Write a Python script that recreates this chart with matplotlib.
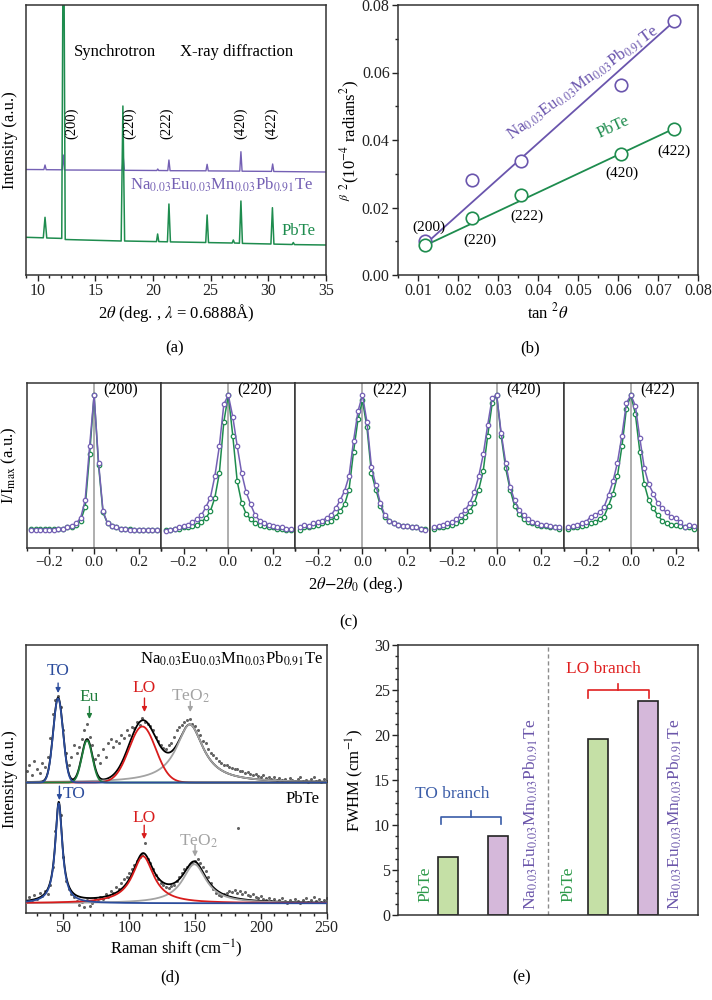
import numpy as np
import matplotlib
matplotlib.use('Agg')
import matplotlib.pyplot as plt
from matplotlib.ticker import MultipleLocator

plt.rcParams['font.family'] = ['Liberation Serif', 'DejaVu Serif']
plt.rcParams['mathtext.fontset'] = 'stix'
plt.rcParams['font.size'] = 11
plt.rcParams['axes.linewidth'] = 1.1
plt.rcParams['axes.edgecolor'] = '#333333'

PURPLE = '#7460b4'
GREEN = '#1e8c4e'
NA_LABEL = r'Na$_{0.03}$Eu$_{0.03}$Mn$_{0.03}$Pb$_{0.91}$Te'

# ---------------- (a) synchrotron XRD traces (arb. units) ----------------
xrd_tth_pbte = [9.0, 10.5, 10.65, 10.8, 12.1, 12.25, 12.4, 17.25, 17.4, 17.55,
                20.31, 20.41, 20.51, 21.26, 21.39, 21.52, 24.58, 24.7, 24.82,
                26.87, 26.97, 27.07, 27.5, 27.63, 27.76, 30.23, 30.36, 30.49,
                32.07, 32.17, 32.27, 35.0]
xrd_int_pbte = [37.7, 37.2, 57.7, 37.0, 36.6, 420.0, 35.5, 34.0, 169.0, 34.0,
                33.4, 41.0, 33.4, 33.2, 71.0, 33.1, 32.5, 60.0, 32.4,
                32.0, 35.0, 32.0, 31.8, 74.0, 31.6, 31.0, 67.3, 30.9,
                30.5, 32.5, 30.4, 30.0]
xrd_tth_na = [9.0, 10.55, 10.65, 10.75, 12.13, 12.23, 12.33, 17.33, 17.43, 17.53,
              20.34, 20.42, 20.5, 21.29, 21.39, 21.49, 24.6, 24.7, 24.8,
              27.53, 27.63, 27.73, 30.28, 30.38, 30.48, 35.0]
xrd_int_na = [105.5, 105.4, 110.0, 105.3, 105.2, 120.0, 105.0, 104.8, 118.0, 104.7,
              104.5, 106.0, 104.5, 104.4, 115.0, 104.3, 104.2, 110.7, 104.1,
              103.9, 123.3, 103.8, 103.6, 111.0, 103.5, 103.0]
hkl = ['(200)', '(220)', '(222)', '(420)', '(422)']
hkl_label_tth = [12.96, 18.0, 21.2, 27.6, 30.3]

# ---------------- (b) Williamson-Hall type plot ----------------
tan2theta = [0.0118, 0.0235, 0.0357, 0.0607, 0.0739]
beta2_na = [0.0102, 0.0281, 0.0338, 0.0563, 0.0753]
beta2_pbte = [0.0089, 0.0168, 0.0237, 0.0358, 0.0433]
fit_tan = [0.0115, 0.0737]
fit_na = [0.0088, 0.0748]
fit_pbte = [0.0086, 0.0432]

# ---------------- (c) normalised peak profiles ----------------
dtheta = np.round(np.arange(-0.28, 0.281, 0.02), 2)
p200_na = [0.00, 0.00, 0.00, 0.00, 0.00, 0.00, 0.01, 0.01, 0.02, 0.03, 0.05, 0.09, 0.22, 0.62, 1.00,
           0.50, 0.14, 0.05, 0.03, 0.02, 0.01, 0.01, 0.00, 0.00, 0.00, 0.00, 0.00, 0.00, 0.00]
p200_pbte = [0.01, 0.01, 0.01, 0.01, 0.01, 0.01, 0.01, 0.01, 0.02, 0.02, 0.04, 0.07, 0.17, 0.56, 1.00,
             0.48, 0.13, 0.05, 0.03, 0.02, 0.01, 0.01, 0.01, 0.00, 0.00, 0.00, 0.00, 0.00, 0.00]
p220_na = [-0.01, 0.00, 0.01, 0.02, 0.03, 0.04, 0.06, 0.08, 0.11, 0.17, 0.24, 0.40, 0.62, 0.93, 1.00,
           0.84, 0.62, 0.42, 0.28, 0.19, 0.11, 0.07, 0.05, 0.04, 0.03, 0.02, 0.02, 0.01, 0.01]
p220_pbte = [0.00, 0.00, 0.01, 0.01, 0.02, 0.02, 0.03, 0.04, 0.06, 0.09, 0.14, 0.24, 0.42, 0.80, 1.00,
             0.70, 0.36, 0.20, 0.12, 0.08, 0.05, 0.04, 0.03, 0.02, 0.02, 0.01, 0.01, 0.00, 0.00]
p222_na = [0.02, 0.04, 0.03, 0.05, 0.06, 0.07, 0.09, 0.11, 0.16, 0.22, 0.29, 0.40, 0.66, 0.88, 1.00,
           0.80, 0.47, 0.33, 0.20, 0.11, 0.07, 0.05, 0.04, 0.03, 0.03, 0.02, 0.02, 0.01, 0.00]
p222_pbte = [0.00, 0.02, 0.02, 0.03, 0.04, 0.05, 0.06, 0.07, 0.10, 0.14, 0.19, 0.30, 0.58, 0.82, 0.96,
             0.76, 0.42, 0.30, 0.18, 0.10, 0.07, 0.05, 0.04, 0.03, 0.03, 0.02, 0.02, 0.01, 0.01]
p420_na = [0.02, 0.03, 0.04, 0.05, 0.06, 0.08, 0.11, 0.15, 0.20, 0.28, 0.40, 0.56, 0.78, 0.98, 1.00,
           0.72, 0.50, 0.32, 0.22, 0.15, 0.11, 0.08, 0.06, 0.05, 0.04, 0.04, 0.03, 0.02, 0.02]
p420_pbte = [0.01, 0.02, 0.02, 0.03, 0.04, 0.05, 0.07, 0.10, 0.14, 0.20, 0.30, 0.44, 0.70, 0.94, 1.00,
             0.70, 0.46, 0.30, 0.18, 0.12, 0.08, 0.06, 0.05, 0.04, 0.03, 0.03, 0.02, 0.02, 0.01]
p422_na = [0.02, 0.03, 0.04, 0.05, 0.06, 0.10, 0.11, 0.13, 0.17, 0.26, 0.36, 0.50, 0.70, 0.94, 1.00,
           0.92, 0.68, 0.46, 0.34, 0.27, 0.20, 0.16, 0.13, 0.10, 0.09, 0.06, 0.02, 0.04, 0.03]
p422_pbte = [0.01, 0.02, 0.02, 0.03, 0.04, 0.05, 0.06, 0.08, 0.10, 0.18, 0.27, 0.40, 0.62, 0.90, 1.00,
             0.86, 0.58, 0.34, 0.22, 0.16, 0.11, 0.07, 0.05, 0.04, 0.04, 0.03, 0.02, 0.02, 0.01]

# ---------------- (d) Raman spectra ----------------
raman_shift = np.arange(22, 251, 2)
raman_na = [12, 18, 8, 22, 14, 10, 20, 16, 26, 45,
            68, 82, 86, 75, 52, 30, 18, 26, 38, 30,
            36, 44, 52, 58, 46, 38, 24, 28, 20, 34,
            26, 40, 44, 36, 42, 40, 48, 45, 52, 48,
            55, 54, 60, 57, 64, 60, 58, 56, 52, 46,
            42, 38, 35, 34, 38, 40, 46, 52, 55, 57,
            60, 62, 63, 58, 56, 52, 48, 42, 40, 34,
            30, 28, 25, 22, 20, 18, 18, 16, 15, 14,
            14, 12, 12, 10, 11, 9, 8, 9, 7, 6,
            8, 5, 6, 4, 6, 3, 5, 3, 4, 2,
            5, 3, 2, 4, 6, 2, 3, 1, 4, 6,
            2, 3, 1, 4, 2]
raman_pbte = [2, 6, 3, 8, 4, 10, 7, 12, 9, 18,
              36, 72, 98, 88, 46, 22, 14, 9, 6, 2,
              -2, 1, -4, 3, -3, 0, 5, 2, 6, 4,
              9, 6, 12, 10, 16, 14, 20, 24, 26, 30,
              34, 38, 42, 46, 48, 60, 44, 40, 34, 28,
              24, 20, 18, 16, 15, 17, 18, 22, 26, 30,
              34, 36, 38, 40, 42, 44, 40, 36, 32, 26,
              20, 14, 10, 8, 7, 9, 10, 12, 11, 13,
              10, 12, 9, 11, 8, 7, 9, 6, 5, 7,
              4, 3, 5, 2, 4, 1, 3, 5, 2, 0,
              3, 1, 4, 2, 0, 3, 5, 1, 3, 6,
              2, 4, 1, 3, 5]
raman_outlier_shift = [183]
raman_outlier_pbte = [75]
raman_offset = 120.6

# fitted modes: centre, height, FWHM (cm-1)
na_modes = ['TO', 'Eu', 'LO', 'TeO2']
na_centre = [46, 68, 110, 146]
na_height = [84, 42, 56, 58]
na_fwhm = [8.8, 9.5, 23.8, 25]
pbte_modes = ['TO', 'LO', 'TeO2']
pbte_centre = [46.5, 110.5, 149.5]
pbte_height = [100, 47, 39]
pbte_fwhm = [6.5, 19.6, 22]

# ---------------- (e) FWHM bars ----------------
fwhm_pos = [1, 2, 4, 5]
fwhm_vals = [6.5, 8.8, 19.6, 23.8]


def gauss(x, c, h, w):
    s = w / 2.3548
    return h * np.exp(-(x - c) ** 2 / (2 * s * s))


def lorentz(x, c, h, w):
    return h / (1 + ((x - c) / (w / 2)) ** 2)


def style_ticks(ax, labelsize=11.5):
    ax.tick_params(which='both', direction='out', top=False, right=False,
                   labelsize=labelsize, width=1, colors='#222222')
    ax.tick_params(which='major', length=4, pad=2)
    ax.tick_params(which='minor', length=2.5)


fig = plt.figure(figsize=(7.12, 10), dpi=100)

# ================= (a) =================
ax = fig.add_axes([0.0365, 0.725, 0.4213, 0.27])
ax.plot(xrd_tth_na, xrd_int_na, color=PURPLE, lw=1.0)
ax.plot(xrd_tth_pbte, xrd_int_pbte, color=GREEN, lw=1.1)
ax.set_xlim(9, 35)
ax.set_ylim(0, 270)
ax.set_yticks([])
ax.xaxis.set_major_locator(MultipleLocator(5))
ax.xaxis.set_minor_locator(MultipleLocator(1))
style_ticks(ax)
ax.set_xlabel(r'2$\theta$ (deg. , $\lambda$ = 0.6888Å)', fontsize=12, labelpad=2)
ax.set_ylabel('Intensity (a.u.)', fontsize=12)
ax.yaxis.set_label_coords(-0.027, 0.5)
ax.text(16.7, 223, 'Synchrotron', fontsize=12, ha='center', va='center')
ax.text(27.26, 223, 'X-ray diffraction', fontsize=12, ha='center', va='center')
for lab, xt in zip(hkl, hkl_label_tth):
    ax.text(xt, 152, lab, rotation=90, fontsize=10.5, ha='center', va='center')
ax.text(25.96, 90, NA_LABEL, color=PURPLE, fontsize=12, ha='center', va='center')
ax.text(32.6, 44, 'PbTe', color=GREEN, fontsize=12, ha='center', va='center')
fig.text(0.2458, 0.652, '(a)', fontsize=12, ha='center', va='center')

# ================= (b) =================
ax = fig.add_axes([0.559, 0.725, 0.4213, 0.27])
ax.plot(fit_tan, fit_na, color='#6a55ad', lw=1.3)
ax.plot(fit_tan, fit_pbte, color=GREEN, lw=1.3)
ax.plot(tan2theta, beta2_na, 'o', ms=9, mfc='white', mec='#6a55ad', mew=1.2)
ax.plot(tan2theta, beta2_pbte, 'o', ms=9, mfc='white', mec=GREEN, mew=1.2)
ax.set_xlim(0.005, 0.08)
ax.set_ylim(0, 0.08)
ax.xaxis.set_major_locator(MultipleLocator(0.01))
ax.xaxis.set_minor_locator(MultipleLocator(0.005))
ax.yaxis.set_major_locator(MultipleLocator(0.02))
ax.yaxis.set_minor_locator(MultipleLocator(0.01))
ax.xaxis.set_major_formatter(plt.FuncFormatter(lambda v, p: '%.2f' % v if v > 0.0075 else ''))
ax.yaxis.set_major_formatter(plt.FuncFormatter(lambda v, p: '%.2f' % v))
style_ticks(ax)
ax.set_xlabel(r'tan $^{2}\theta$', fontsize=12, labelpad=2)
ax.set_ylabel(r'$^{\beta}$ $^{2}$(10$^{-4}$ radians$^{2}$)', fontsize=12)
ax.yaxis.set_label_coords(-0.12, 0.5)
hkl_b_xy = [(0.01275, 0.0142), (0.0255, 0.0104), (0.03725, 0.0175), (0.061, 0.0302), (0.074, 0.0367)]
for lab, (xt, yt) in zip(hkl, hkl_b_xy):
    ax.text(xt, yt, lab, fontsize=11, ha='center', va='center')
ax.text(0.0513, 0.0569, NA_LABEL, color='#6a55ad', fontsize=12, rotation=36,
        ha='center', va='center', rotation_mode='anchor')
ax.text(0.0588, 0.0439, 'PbTe', color=GREEN, fontsize=12, rotation=25,
        ha='center', va='center', rotation_mode='anchor')
fig.text(0.744, 0.652, '(b)', fontsize=12, ha='center', va='center')

# ================= (c) =================
profiles = [(p200_na, p200_pbte), (p220_na, p220_pbte), (p222_na, p222_pbte),
            (p420_na, p420_pbte), (p422_na, p422_pbte)]
c_left, c_w = 0.0379, 0.9424 / 5
for i, (lab, (yn, yp)) in enumerate(zip(hkl, profiles)):
    ax = fig.add_axes([c_left + i * c_w, 0.452, c_w, 0.165])
    ax.axvline(0, color='#a8a8a8', lw=1.3, zorder=0)
    ax.plot(dtheta, yp, '-o', color=GREEN, lw=1.1, ms=3.2, mfc='white', mew=0.9)
    ax.plot(dtheta, yn, '-o', color=PURPLE, lw=1.1, ms=3.2, mfc='white', mew=0.9)
    ax.set_xlim(-0.3, 0.3)
    ax.set_ylim(-0.133, 1.089)
    ax.set_yticks([])
    ax.set_xticks([-0.2, 0.0, 0.2])
    ax.set_xticks([-0.3, -0.1, 0.1, 0.3], minor=True)
    style_ticks(ax, 11)
    ax.text(0.12, 1.037, lab, fontsize=11.5, ha='center', va='center')
    if i == 0:
        ax.set_ylabel(r'I/I$_{\mathrm{max}}$ (a.u.)', fontsize=12)
        ax.yaxis.set_label_coords(-0.06, 0.5)
fig.text(0.5, 0.415, r'2$\theta$$-$2$\theta_{0}$ (deg.)', fontsize=12, ha='center', va='center')
fig.text(0.489, 0.378, '(c)', fontsize=12, ha='center', va='center')

# ================= (d) =================
ax = fig.add_axes([0.0365, 0.0867, 0.4223, 0.2683])
xs = np.linspace(22, 250, 600)
ax.plot(raman_shift, np.array(raman_na) + raman_offset, 'o', color='#626262', ms=2.2, mew=0, zorder=1)
ax.plot(raman_shift, raman_pbte, 'o', color='#626262', ms=2.2, mew=0, zorder=1)
ax.plot(raman_outlier_shift, raman_outlier_pbte, 'o', color='#626262', ms=2.2, mew=0, zorder=1)

na_shape = [gauss, gauss, gauss, lorentz]
na_col = ['#2b4c9c', '#1f7d3c', '#d81c1c', '#a3a3a3']
na_comp = [f(xs, c, h, w) for f, c, h, w in zip(na_shape, na_centre, na_height, na_fwhm)]
ax.plot(xs, sum(na_comp) + raman_offset, color='black', lw=1.3, zorder=2)
for comp, col in zip(na_comp[::-1], na_col[::-1]):
    ax.plot(xs, comp + raman_offset, color=col, lw=1.3, zorder=3)

pb_col = ['#2b4c9c', '#d81c1c', '#a3a3a3']
pb_comp = [lorentz(xs, c, h, w) for c, h, w in zip(pbte_centre, pbte_height, pbte_fwhm)]
ax.plot(xs, sum(pb_comp), color='black', lw=1.3, zorder=2)
for comp, col in zip(pb_comp[::-1], pb_col[::-1]):
    ax.plot(xs, comp, color=col, lw=1.3, zorder=3)

ax.set_xlim(21.6, 250)
ax.set_ylim(-10, 258)
ax.set_yticks([])
ax.xaxis.set_major_locator(MultipleLocator(50))
ax.xaxis.set_minor_locator(MultipleLocator(10))
style_ticks(ax)
ax.tick_params(which='major', pad=1)
ax.set_xlabel(r'Raman shift (cm$^{-1}$)', fontsize=12, labelpad=1)
ax.set_ylabel('Intensity (a.u.)', fontsize=12)
ax.yaxis.set_label_coords(-0.027, 0.5)


def mark(x, ytxt, ytail, ytip, txt, col, dx=0, ha='center'):
    ax.annotate('', xy=(x, ytip), xytext=(x, ytail),
                arrowprops=dict(arrowstyle='-|>', color=col, lw=1.0, mutation_scale=7,
                                shrinkA=0, shrinkB=0), zorder=5)
    ax.text(x + dx, ytxt, txt, color=col, fontsize=12.5, ha=ha, va='center')


mark(46, 231.6, 220, 210, 'TO', '#2b4c9c')
mark(69.8, 205.6, 196.6, 184, 'Eu', '#1f7d3c')
mark(111.6, 215, 205, 191, 'LO', '#d81c1c')
mark(146.4, 206.6, 201.6, 191, r'TeO$_2$', '#a3a3a3')
mark(47, 109, 117, 103, 'TO', '#2b4c9c', dx=2.5, ha='left')
mark(111.4, 85, 78, 64, 'LO', '#d81c1c')
mark(150, 62.3, 58, 46.6, r'TeO$_2$', '#a3a3a3', dx=3)
ax.text(247.6, 244, NA_LABEL, fontsize=12, ha='right', va='center')
ax.text(244.5, 104, 'PbTe', fontsize=12, ha='right', va='center')
fig.text(0.239, 0.0223, '(d)', fontsize=12, ha='center', va='center')

# ================= (e) =================
ax = fig.add_axes([0.5594, 0.085, 0.4209, 0.27])
ax.bar(fwhm_pos, fwhm_vals, width=0.41, color=['#c5e0a6', '#d5b8da', '#c5e0a6', '#d5b8da'],
       edgecolor='#222222', linewidth=1.2, zorder=2)
ax.axvline(3, color='#8c8c8c', lw=1.0, ls=(0, (3, 2)))
ax.set_xlim(0, 6)
ax.set_ylim(0, 30)
ax.set_xticks([])
ax.yaxis.set_major_locator(MultipleLocator(5))
ax.yaxis.set_minor_locator(MultipleLocator(1.25))
style_ticks(ax)
ax.set_ylabel(r'FWHM (cm$^{-1}$)', fontsize=12)
ax.yaxis.set_label_coords(-0.108, 0.5)
for xt in [0.55, 3.4]:
    ax.text(xt, 1.5, 'PbTe', color='#2e9a4a', fontsize=12.5, rotation=90, ha='center', va='bottom')
for xt in [2.66, 5.54]:
    ax.text(xt, 0.55, NA_LABEL, color='#6a55aa', fontsize=12.5, rotation=90, ha='center', va='bottom')
to_col, lo_col = '#3a5ca8', '#e02020'
ax.plot([0.86, 0.86, 2.06, 2.06], [10.1, 10.9, 10.9, 10.1], color=to_col, lw=1.2)
ax.plot([1.46, 1.46], [10.9, 11.6], color=to_col, lw=1.2)
ax.text(1.085, 13.5, 'TO branch', color=to_col, fontsize=12.5, ha='center', va='center')
ax.plot([3.8, 3.8, 5.01, 5.01], [24.1, 25.0, 25.0, 24.1], color=lo_col, lw=1.2)
ax.plot([4.405, 4.405], [25.0, 25.7], color=lo_col, lw=1.2)
ax.text(4.1, 27.3, 'LO branch', color=lo_col, fontsize=12.5, ha='center', va='center')
fig.text(0.733, 0.0223, '(e)', fontsize=12, ha='center', va='center')

fig.savefig('out.png', dpi=100)
